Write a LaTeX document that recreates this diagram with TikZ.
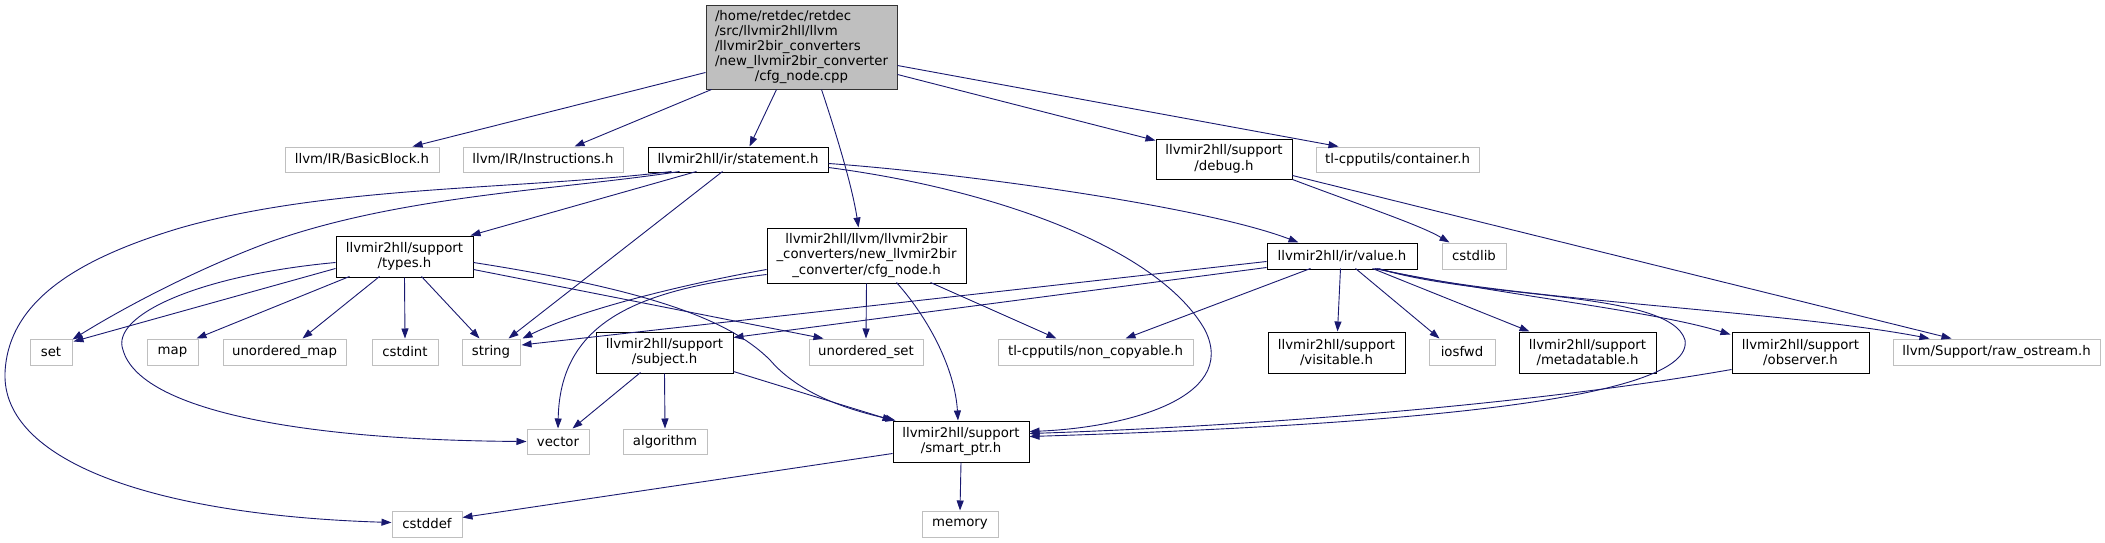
\documentclass[tikz,border=0pt]{standalone}
\usepackage{fontspec}
\setmainfont{DejaVu Sans}
\usetikzlibrary{arrows.meta}
\definecolor{edgeblue}{HTML}{191970}
\definecolor{lightframe}{HTML}{BFBFBF}
\begin{document}
\begin{tikzpicture}[x=1pt,y=-1pt,
 box/.style={draw, line width=1pt, fill=white, inner sep=0pt, font=\fontsize{13.3}{15.5}\selectfont, align=center},
 sysbox/.style={box, draw=lightframe},
 hdrbox/.style={box, draw=black},
 rootbox/.style={box, draw=black!80, fill=lightframe, font=\fontsize{13.3}{15}\selectfont},
 dep/.style={draw=edgeblue, line width=0.9pt, -{Triangle[length=10pt,width=7pt]}}
]
\fill[white] (0,0) rectangle (2105,543);
\useasboundingbox (0,0) rectangle (2105,543);

% nodes
\node[rootbox, minimum width=191pt, minimum height=84pt] (root) at (801.5,48)
 {\begin{tabular}{@{}l@{}}/home/retdec/retdec\\/src/llvmir2hll/llvm\\/llvmir2bir\_converters\\/new\_llvmir2bir\_converter\\\multicolumn{1}{@{}c@{}}{/cfg\_node.cpp}\end{tabular}};
\node[sysbox, minimum width=154pt, minimum height=25pt] (bb) at (362,159.5) {llvm/IR/BasicBlock.h};
\node[sysbox, minimum width=160pt, minimum height=25pt] (instr) at (543,159.5) {llvm/IR/Instructions.h};
\node[hdrbox, minimum width=180pt, minimum height=25pt] (stmt) at (738,159.5) {llvmir2hll/ir/statement.h};
\node[hdrbox, minimum width=136pt, minimum height=40pt] (debug) at (1224,159) {llvmir2hll/support\\/debug.h};
\node[sysbox, minimum width=163pt, minimum height=25pt] (container) at (1397.5,159.5) {tl-cpputils/container.h};
\node[hdrbox, minimum width=137pt, minimum height=41pt] (types) at (404.5,256.5) {llvmir2hll/support\\/types.h};
\node[hdrbox, minimum width=199pt, minimum height=55pt] (cfg) at (866.5,255.5) {llvmir2hll/llvm/llvmir2bir\\\_converters/new\_llvmir2bir\\\_converter/cfg\_node.h};
\node[hdrbox, minimum width=150pt, minimum height=26pt] (value) at (1342,256) {llvmir2hll/ir/value.h};
\node[sysbox, minimum width=64pt, minimum height=26pt] (cstdlib) at (1474,256) {cstdlib};
\node[sysbox, minimum width=42pt, minimum height=26pt] (set) at (51,352) {set};
\node[sysbox, minimum width=51pt, minimum height=26pt] (map) at (172.5,352) {map};
\node[sysbox, minimum width=123pt, minimum height=26pt] (umap) at (284.5,352) {unordered\_map};
\node[sysbox, minimum width=66pt, minimum height=26pt] (cstdint) at (405,352) {cstdint};
\node[sysbox, minimum width=58pt, minimum height=26pt] (string) at (491,352) {string};
\node[hdrbox, minimum width=137pt, minimum height=41pt] (subject) at (664.5,352.5) {llvmir2hll/support\\/subject.h};
\node[sysbox, minimum width=114pt, minimum height=26pt] (uset) at (866,352) {unordered\_set};
\node[sysbox, minimum width=195pt, minimum height=26pt] (noncopy) at (1095.5,352) {tl-cpputils/non\_copyable.h};
\node[hdrbox, minimum width=137pt, minimum height=41pt] (visitable) at (1336.5,352.5) {llvmir2hll/support\\/visitable.h};
\node[sysbox, minimum width=66pt, minimum height=26pt] (iosfwd) at (1462,352) {iosfwd};
\node[hdrbox, minimum width=137pt, minimum height=41pt] (meta) at (1587.5,352.5) {llvmir2hll/support\\/metadatable.h};
\node[hdrbox, minimum width=137pt, minimum height=41pt] (observer) at (1800.5,352.5) {llvmir2hll/support\\/observer.h};
\node[sysbox, minimum width=207pt, minimum height=26pt] (raw) at (1996.5,352) {llvm/Support/raw\_ostream.h};
\node[sysbox, minimum width=62pt, minimum height=25pt] (vector) at (558,441.5) {vector};
\node[sysbox, minimum width=84pt, minimum height=25pt] (algorithm) at (665,441.5) {algorithm};
\node[hdrbox, minimum width=136pt, minimum height=41pt] (smart) at (961,441.5) {llvmir2hll/support\\/smart\_ptr.h};
\node[sysbox, minimum width=70pt, minimum height=26pt] (cstddef) at (427,524) {cstddef};
\node[sysbox, minimum width=76pt, minimum height=26pt] (memory) at (960,524) {memory};

% root edges
\draw[dep] ([shift={(0,67)}]root.north west) -- ([shift={(128,0)}]bb.north west);
\draw[dep] ([shift={(6,84)}]root.north west) -- ([shift={(112,0)}]instr.north west);
\draw[dep] ([shift={(71,84)}]root.north west) -- ([shift={(102,0)}]stmt.north west);
\draw[dep] ([shift={(116,84)}]root.north west) .. controls (835,130) and (852,185) .. ([shift={(92,0)}]cfg.north west);
\draw[dep] ([shift={(0,69)}]root.north east) -- ([shift={(0,2)}]debug.north west);
\draw[dep] ([shift={(0,60)}]root.north east) -- ([shift={(23,0)}]container.north west);

% statement edges
\draw[dep] ([shift={(24,25)}]stmt.north west) .. controls (520,190) and (330,185) .. (180,228)
  .. controls (80,258) and (8,300) .. (5,373)
  .. controls (2,460) and (150,515) .. ([shift={(0,12)}]cstddef.north west);
\draw[dep] ([shift={(32,25)}]stmt.north west) .. controls (560,190) and (400,195) .. (267,243)
  .. controls (190,272) and (120,310) .. ([shift={(0,1)}]set.north east);
\draw[dep] ([shift={(49,25)}]stmt.north west) -- ([shift={(-3,0)}]types.north east);
\draw[dep] ([shift={(75,25)}]stmt.north west) -- ([shift={(47,0)}]string.north west);
\draw[dep] ([shift={(0,17)}]stmt.north east) .. controls (950,172) and (1200,205) .. ([shift={(32,0)}]value.north west);
\draw[dep] ([shift={(0,21)}]stmt.north east) .. controls (1000,190) and (1160,250) .. (1205,330)
  .. controls (1240,400) and (1120,428) .. ([shift={(0,11)}]smart.north east);

% types edges
\draw[dep] ([shift={(0,33)}]types.north west) -- ([shift={(1,3)}]set.north east);
\draw[dep] ([shift={(0,27)}]types.north west) .. controls (200,275) and (110,315) .. (123,350)
  .. controls (140,410) and (300,440) .. (vector.west);
\draw[dep] ([shift={(14,41)}]types.north west) -- ([shift={(-2,0)}]map.north east);
\draw[dep] ([shift={(44,41)}]types.north west) -- ([shift={(80,0)}]umap.north west);
\draw[dep] (types.south) -- (cstdint.north);
\draw[dep] ([shift={(86,41)}]types.north west) -- ([shift={(18,0)}]string.north west);
\draw[dep] ([shift={(0,34)}]types.north east) -- ([shift={(15,0)}]uset.north west);
\draw[dep] ([shift={(0,27)}]types.north east) .. controls (650,290) and (730,320) .. (770,360)
  .. controls (800,395) and (850,410) .. ([shift={(3,0)}]smart.north west);

% cfg_node edges
\draw[dep] ([shift={(0,42)}]cfg.north west) .. controls (680,285) and (580,310) .. ([shift={(2,0)}]string.north east);
\draw[dep] ([shift={(0,47)}]cfg.north west) .. controls (640,290) and (560,320) .. (vector.north);
\draw[dep] (cfg.south) -- (uset.north);
\draw[dep] ([shift={(130,55)}]cfg.north west) .. controls (930,320) and (955,370) .. ([shift={(-3,0)}]smart.north);
\draw[dep] ([shift={(164,55)}]cfg.north west) -- ([shift={(59,0)}]noncopy.north west);

% value edges
\draw[dep] ([shift={(0,19)}]value.north west) -- ([shift={(1,-7)}]string.east);
\draw[dep] ([shift={(0,25)}]value.north west) -- ([shift={(0,6)}]subject.north east);
\draw[dep] ([shift={(44,26)}]value.north west) -- ([shift={(128,0)}]noncopy.north west);
\draw[dep] ([shift={(74,26)}]value.north west) -- ([shift={(70,0)}]visitable.north west);
\draw[dep] ([shift={(89,26)}]value.north west) -- ([shift={(11,0)}]iosfwd.north west);
\draw[dep] ([shift={(106,26)}]value.north west) -- ([shift={(11,0)}]meta.north west);
\draw[dep] ([shift={(108,26)}]value.north west) .. controls (1500,295) and (1650,310) .. ([shift={(-1,3)}]observer.north west);
\draw[dep] ([shift={(110,26)}]value.north west) .. controls (1500,300) and (1780,310) .. ([shift={(37,0)}]raw.north west);
\draw[dep] ([shift={(112,26)}]value.north west) .. controls (1480,300) and (1670,290) .. (1685,340)
  .. controls (1695,400) and (1400,425) .. ([shift={(0,16)}]smart.north east);

% observer, debug, subject, smart_ptr edges
\draw[dep] ([shift={(0,38)}]observer.north west) .. controls (1500,410) and (1200,428) .. ([shift={(0,13)}]smart.north east);
\draw[dep] (debug.south east) .. controls (1360,205) and (1420,225) .. ([shift={(8,0)}]cstdlib.north west);
\draw[dep] ([shift={(0,37)}]debug.north east) -- ([shift={(59,0)}]raw.north west);
\draw[dep] ([shift={(45,41)}]subject.north west) -- ([shift={(46,0)}]vector.north west);
\draw[dep] (subject.south) -- (algorithm.north);
\draw[dep] ([shift={(0,-2)}]subject.south east) -- (smart.north west);
\draw[dep] ([shift={(0,33)}]smart.north west) -- ([shift={(0,7)}]cstddef.north east);
\draw[dep] (smart.south) -- (memory.north);
\end{tikzpicture}
\end{document}
